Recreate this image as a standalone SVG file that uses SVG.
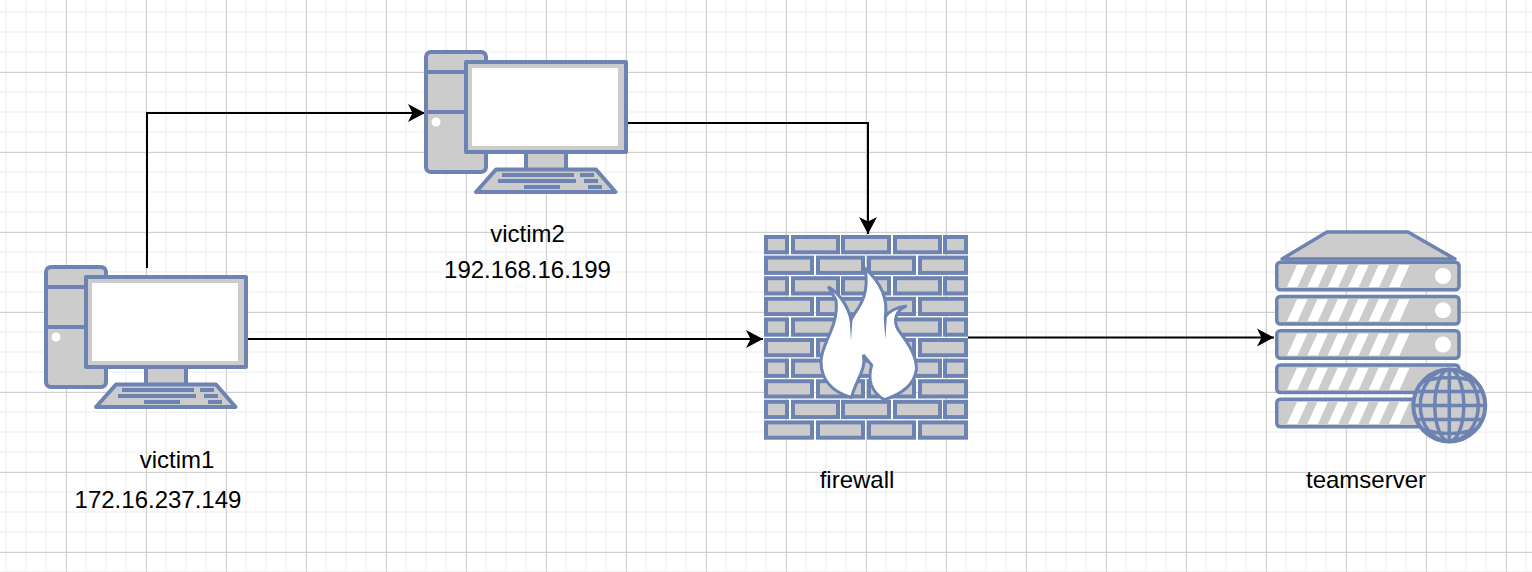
<svg xmlns="http://www.w3.org/2000/svg" width="1532" height="572" viewBox="0 0 1532 572">
<style>
.major{stroke:#d0d0d0;stroke-width:1;fill:none}
.s{fill:#cccccc;stroke:#6d83b1;stroke-linejoin:round}
.br{fill:#cccccc;stroke:#6d83b1;stroke-width:4;stroke-linejoin:miter}
.b{fill:#6d83b1}
.w{fill:#ffffff}
.c{fill:none;stroke:#000000;stroke-width:2}
text{font-family:"Liberation Sans",Arial,sans-serif;font-size:24px;fill:#000000;text-anchor:middle}
</style>
<defs>
<marker id="arrow" markerUnits="userSpaceOnUse" markerWidth="20" markerHeight="20" refX="18" refY="10" orient="auto">
<path d="M1 1L18 10L1 19L5.500 10Z" fill="#000000"/>
</marker>
<pattern id="minorGrid" width="20" height="20" patternUnits="userSpaceOnUse" x="-4" y="2">
<path d="M0 10H20M10 0V20" fill="none" stroke="#f5f5f5" stroke-width="2"/>
</pattern>
<g id="pc">
<rect x="46" y="267" width="60" height="120" rx="5" class="s" stroke-width="4"/>
<path d="M46 287H86M46 327H86" class="s" stroke-width="4"/>
<circle cx="56" cy="337" r="4.500" class="w"/>
<rect x="146" y="367" width="40" height="18" class="s" stroke-width="4"/>
<path d="M116 384.500H216L235.500 407H96Z" class="s" stroke-width="4"/>
<rect x="86" y="277" width="160" height="90" class="s" stroke-width="4"/>
<rect x="92" y="283" width="146" height="78" class="w"/>
<path d="M122 388h72v4h-72zM200 388h14v4h-14zM118 394h78v4h-78zM204 394h14v4h-14zM144 400h36v4h-36zM208 400h14v4h-14z" class="b"/>
</g>
<g id="row-a">
<rect x="766" y="237" width="21" height="15.300" class="br"/>
<rect x="793" y="237" width="45" height="15.300" class="br"/>
<rect x="843" y="237" width="46" height="15.300" class="br"/>
<rect x="895" y="237" width="45" height="15.300" class="br"/>
<rect x="945" y="237" width="21" height="15.300" class="br"/>
</g>
<g id="row-b">
<rect x="766" y="257.600" width="46" height="15.300" class="br"/>
<rect x="818" y="257.600" width="45" height="15.300" class="br"/>
<rect x="869" y="257.600" width="45" height="15.300" class="br"/>
<rect x="920" y="257.600" width="46" height="15.300" class="br"/>
</g>
<g id="blade">
<rect x="1276.750" y="262.250" width="182.250" height="27.500" rx="3.500" class="s" stroke-width="3.500"/>
<path d="M1287 287l10-22h10.500l-10 22zM1307.400 287l10-22h10.500l-10 22zM1327.800 287l10-22h10.500l-10 22zM1348.200 287l10-22h10.500l-10 22zM1368.600 287l10-22h10.500l-10 22zM1389 287l10-22h10.500l-10 22z" class="w"/>
</g>
</defs>
<g id="grid">
<rect width="1532" height="572" fill="#ffffff"/>
<rect width="1532" height="572" fill="url(#minorGrid)"/>
<path class="major" d="M66.500 0V572M146.500 0V572M226.500 0V572M306.500 0V572M386.500 0V572M466.500 0V572M546.500 0V572M626.500 0V572M706.500 0V572M786.500 0V572M866.500 0V572M946.500 0V572M1026.500 0V572M1106.500 0V572M1186.500 0V572M1266.500 0V572M1346.500 0V572M1426.500 0V572M1506.500 0V572M0 72.500H1532M0 152.500H1532M0 232.500H1532M0 312.500H1532M0 392.500H1532M0 472.500H1532M0 552.500H1532"/>
</g>
<g id="connectors">
<path class="c" d="M147 268V113H425" marker-end="url(#arrow)"/>
<path class="c" d="M628 123H868V234" marker-end="url(#arrow)"/>
<path class="c" d="M248 339H763" marker-end="url(#arrow)"/>
<path class="c" d="M968 337.500H1274" marker-end="url(#arrow)"/>
</g>
<g id="victim1">
<use href="#pc"/>
<text x="177" y="467.500">victim1</text>
<text x="158" y="508">172.16.237.149</text>
</g>
<g id="victim2">
<use href="#pc" x="380" y="-215"/>
<text x="527.500" y="241.500">victim2</text>
<text x="527.500" y="277.500">192.168.16.199</text>
</g>
<g id="firewall">
<use href="#row-a"/><use href="#row-b"/>
<use href="#row-a" y="41.200"/><use href="#row-b" y="41.200"/>
<use href="#row-a" y="82.400"/><use href="#row-b" y="82.400"/>
<use href="#row-a" y="123.600"/><use href="#row-b" y="123.600"/>
<use href="#row-a" y="164.800"/><use href="#row-b" y="164.800"/>
<path transform="translate(750 220) scale(.3333)" fill="#ffffff" stroke="#6d83b1" stroke-width="9" d="M303 532C250 517 213 482 213 425C213 370 268 320 258 240L235 200C270 222 295 260 303 300C315 270 362 240 345 145C395 190 414 240 406 290C418 272 440 262 470 258C437 272 428 300 445 330C475 370 502 410 499 450C492 502 440 527 403 539C365 517 352 480 365 435L340 405C350 445 320 477 305 530Z"/>
<path transform="translate(750 220) scale(.3333)" class="b" d="M299 295L303 362L308 290ZM401 290L406 358L411 285Z"/>
<text x="857" y="488">firewall</text>
</g>
<g id="teamserver">
<path d="M1327 232H1408L1455 259H1282Z" class="s" stroke-width="3.500"/>
<use href="#blade"/>
<use href="#blade" y="34.250"/>
<use href="#blade" y="68.500"/>
<use href="#blade" y="102.750"/>
<use href="#blade" y="137"/>
<circle cx="1443" cy="276" r="8" class="w"/>
<circle cx="1443" cy="310.300" r="8" class="w"/>
<circle cx="1443" cy="344.600" r="8" class="w"/>
<g transform="translate(1449.300 405.500)" fill="none" stroke="#6d83b1" stroke-width="3.500">
<circle r="36" fill="#cccccc" stroke-width="4"/>
<ellipse rx="14.500" ry="36"/>
<ellipse rx="29" ry="36"/>
<path d="M0-36V36M-36 0H36M-33-14H33M-33 14H33M-26-24Q0-32 26-24M-26 24Q0 32 26 24"/>
</g>
<text x="1366" y="488">teamserver</text>
</g>
</svg>
